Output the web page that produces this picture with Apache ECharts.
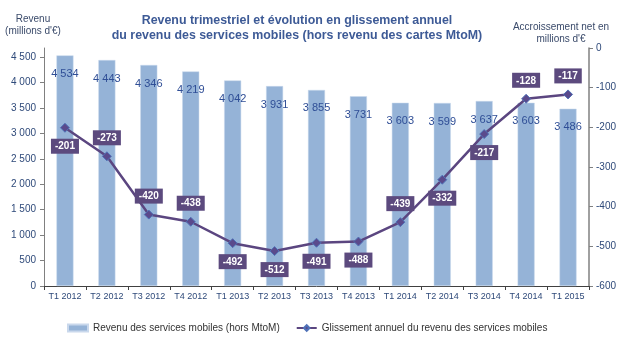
<!DOCTYPE html>
<html>
<head>
<meta charset="utf-8">
<script src="https://cdn.jsdelivr.net/npm/echarts@6/dist/echarts.min.js"></script>
<style>
  html, body { margin: 0; padding: 0; background: #ffffff; }
  #chart { width: 627px; height: 345px; }
</style>
</head>
<body>
<div id="chart"></div>
<script>
// Quarters
const quarters = ['T1 2012', 'T2 2012', 'T3 2012', 'T4 2012', 'T1 2013', 'T2 2013', 'T3 2013',
                  'T4 2013', 'T1 2014', 'T2 2014', 'T3 2014', 'T4 2014', 'T1 2015'];
// Revenu des services mobiles hors MtoM (millions d'€)
const revenue = [4534, 4443, 4346, 4219, 4042, 3931, 3855, 3731, 3603, 3599, 3637, 3603, 3486];
// Glissement annuel (millions d'€)
const yoyChange = [-201, -273, -420, -438, -492, -512, -491, -488, -439, -332, -217, -128, -117];
// Axis ticks
const leftTicks = [0, 500, 1000, 1500, 2000, 2500, 3000, 3500, 4000, 4500];
const rightTicks = [0, -100, -200, -300, -400, -500, -600];

// Which side of each point its value box sits on
const boxSide = ['bottom', 'top', 'top', 'top', 'bottom', 'bottom', 'bottom',
                 'bottom', 'top', 'bottom', 'bottom', 'top', 'top'];

const fmt = v => String(v).replace(/\B(?=(\d{3})+(?!\d))/g, ' ');

const FONT = '"Liberation Sans", Arial, sans-serif';
const axisText = '#2F4A7A';

const chart = echarts.init(document.getElementById('chart'), null, { renderer: 'canvas' });

chart.setOption({
  animation: false,
  backgroundColor: '#ffffff',
  textStyle: { fontFamily: FONT },
  title: {
    text: 'Revenu trimestriel et évolution en glissement annuel\ndu revenu des services mobiles (hors revenu des cartes MtoM)',
    left: 292,
    top: 8,
    textAlign: 'center',
    textStyle: { fontFamily: FONT, fontSize: 12.4, fontWeight: 'bold', color: '#3D5A96', lineHeight: 15 }
  },
  graphic: [
    {
      type: 'text', x: 33, y: 13,
      style: { text: "Revenu\n(millions d'€)", fill: '#3A4A6A', font: '10px ' + FONT, align: 'center', verticalAlign: 'top', lineHeight: 12 }
    },
    {
      type: 'text', x: 561, y: 21,
      style: { text: "Accroissement net en\nmillions d'€", fill: '#3A4A6A', font: '10px ' + FONT, align: 'center', verticalAlign: 'top', lineHeight: 12 }
    }
  ],
  legend: {
    left: 62,
    top: 318,
    itemGap: 16,
    itemWidth: 20,
    itemHeight: 7,
    textStyle: { fontFamily: FONT, fontSize: 10, color: '#333333' },
    data: [
      { name: 'Revenu des services mobiles (hors MtoM)', icon: 'rect' },
      { name: 'Glissement annuel du revenu des services mobiles' }
    ]
  },
  grid: { left: 44, right: 38, top: 48, bottom: 59 },
  xAxis: {
    type: 'category',
    data: quarters,
    axisLine: { lineStyle: { color: '#404040', width: 1 } },
    axisTick: { show: true, length: 4, lineStyle: { color: '#404040' } },
    axisLabel: { color: axisText, fontSize: 9, margin: 6, interval: 0 }
  },
  yAxis: [
    {
      type: 'value',
      min: 0,
      max: 4680,
      interval: 500,
      splitLine: { show: false },
      axisLine: { show: true, lineStyle: { color: '#808080' } },
      axisTick: { show: true, length: 4, customValues: leftTicks, lineStyle: { color: '#808080' } },
      axisLabel: { color: axisText, fontSize: 10, margin: 8, customValues: leftTicks, formatter: fmt }
    },
    {
      type: 'value',
      min: -600,
      max: 0,
      interval: 100,
      splitLine: { show: false },
      axisLine: { show: true, lineStyle: { color: '#808080', width: 1.5 } },
      axisTick: { show: true, length: 4, lineStyle: { color: '#808080' } },
      axisLabel: { color: axisText, fontSize: 10, margin: 7, customValues: rightTicks }
    }
  ],
  series: [
    {
      name: 'Revenu des services mobiles (hors MtoM)',
      type: 'bar',
      yAxisIndex: 0,
      data: revenue,
      barWidth: 17,
      itemStyle: { color: '#95B3D7', borderColor: '#C9D8EC', borderWidth: 0.5 },
      label: {
        show: true,
        position: 'insideTop',
        distance: 13,
        color: '#2F4E96',
        fontSize: 11,
        formatter: p => fmt(p.value)
      },
      z: 1
    },
    {
      name: 'Glissement annuel du revenu des services mobiles',
      type: 'line',
      yAxisIndex: 1,
      data: yoyChange.map((v, i) => ({
        value: v,
        label: { position: boxSide[i] }
      })),
      symbol: 'diamond',
      symbolSize: 9,
      lineStyle: { color: '#5B4680', width: 2.5 },
      itemStyle: { color: '#5A4A8C', borderColor: '#4F72B8', borderWidth: 1 },
      label: {
        show: true,
        distance: 6,
        color: '#ffffff',
        fontWeight: 'bold',
        fontSize: 10,
        backgroundColor: '#5C4A7E',
        padding: [3, 4, 2, 4],
        formatter: p => String(p.value)
      },
      z: 3
    }
  ]
});
</script>
</body>
</html>
